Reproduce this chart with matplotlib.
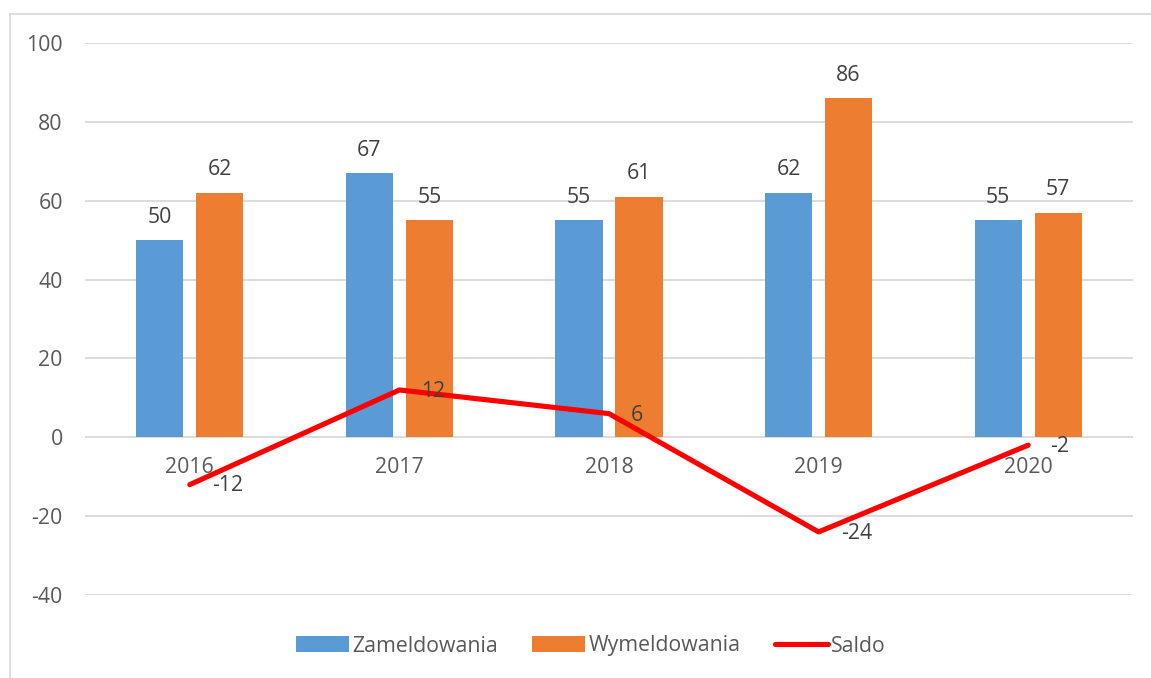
import matplotlib
matplotlib.use("Agg")
import matplotlib.pyplot as plt
from matplotlib.lines import Line2D
import numpy as np

years = ["2016", "2017", "2018", "2019", "2020"]
zameldowania = [50, 67, 55, 62, 55]
wymeldowania = [62, 55, 61, 86, 57]
saldo = [-12, 12, 6, -24, -2]
yticks = [-40, -20, 0, 20, 40, 60, 80, 100]

plt.rcParams['font.family'] = ['Open Sans', 'DejaVu Sans']
FS = 15.3

fig = plt.figure(figsize=(11.51, 6.78), dpi=100)
ax = fig.add_axes([85/1151, 1-595/678, (1133-85)/1151, (595-43)/678])

x = np.arange(len(years))
w = 0.225
off = 0.143
b1 = ax.bar(x - off, zameldowania, w, color="#5B9BD5", label="Zameldowania", zorder=2)
b2 = ax.bar(x + off, wymeldowania, w, color="#ED7D31", label="Wymeldowania", zorder=2)
ln, = ax.plot(x, saldo, color="#FF0000", lw=3.7, label="Saldo", zorder=3,
              solid_capstyle="round", solid_joinstyle="round")

lab_col = "#404040"
for bars, vals in ((b1, zameldowania), (b2, wymeldowania)):
    for r, v in zip(bars, vals):
        ax.annotate(str(v), (r.get_x() + r.get_width()/2, v), xytext=(0, 9),
                    textcoords="offset points", ha="center", va="bottom",
                    fontsize=FS, color=lab_col)
for xi, v in zip(x, saldo):
    ax.annotate(str(v), (xi, v), xytext=(16, -1), textcoords="offset points",
                ha="left", va="center", fontsize=FS, color=lab_col, zorder=4)

ax.set_xlim(-0.5, len(years) - 0.5)
ax.set_ylim(-40, 100)
ax.set_yticks(yticks)
ax.set_yticklabels([str(t) for t in yticks])
ax.set_xticks(x)
ax.set_xticklabels([])
ax.tick_params(axis="both", length=0, labelsize=FS, labelcolor="#595959")
ax.tick_params(axis="y", pad=16)
for s in ax.spines.values():
    s.set_visible(False)
ax.yaxis.grid(True, color="#D9D9D9", lw=1.3, zorder=0)
ax.set_axisbelow(True)

# category labels just under the zero line
for xi, yr in zip(x, years):
    ax.annotate(yr, (xi, 0), xytext=(0, -22), textcoords="offset points",
                ha="center", va="center", fontsize=FS, color="#595959", zorder=1)

leg = fig.legend(handles=[b1, b2, ln], labels=["Zameldowania", "Wymeldowania", "Saldo"],
                 loc="center", bbox_to_anchor=(591/1151, 1-646/678), ncol=3,
                 frameon=False, fontsize=FS, handlelength=2.5, handleheight=0.75,
                 handletextpad=0.15, columnspacing=1.6, labelcolor="#595959")

# figure border (left and top visible)
fig.add_artist(Line2D([10/1151, 10/1151], [0, 1-14/678], color="#D9D9D9", lw=1.2))
fig.add_artist(Line2D([10/1151, 1], [1-14/678, 1-14/678], color="#D9D9D9", lw=1.2))

fig.savefig("out.png", dpi=100)
